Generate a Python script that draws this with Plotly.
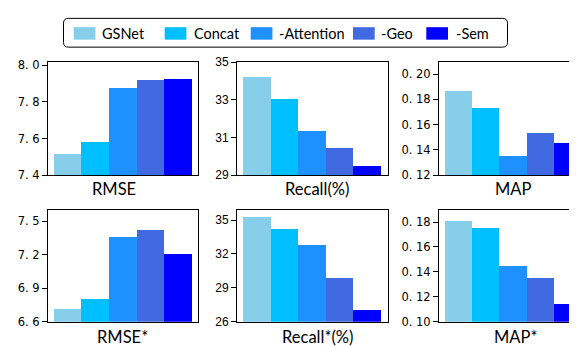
import plotly.graph_objects as go

W, H = 577, 347

methods = ["GSNet", "Concat", "-Attention", "-Geo", "-Sem"]
colors = ["#87CEEB", "#00BFFF", "#1E90FF", "#4169E1", "#0000FF"]

metrics = ["RMSE", "Recall(%)", "MAP", "RMSE*", "Recall*(%)", "MAP*"]
rmse = [7.517, 7.579, 7.874, 7.921, 7.926]
recall = [34.20, 33.06, 31.34, 30.42, 29.49]
map_ = [0.1863, 0.1731, 0.1350, 0.1537, 0.1459]
rmse_star = [6.717, 6.811, 7.360, 7.420, 7.206]
recall_star = [35.31, 34.21, 32.85, 29.96, 27.08]
map_star = [0.1808, 0.1753, 0.1448, 0.1354, 0.1143]
values = [rmse, recall, map_, rmse_star, recall_star, map_star]

tickvals = [
    [7.4, 7.6, 7.8, 8.0],
    [29, 31, 33, 35],
    [0.12, 0.14, 0.16, 0.18, 0.20],
    [6.6, 6.9, 7.2, 7.5],
    [26, 29, 32, 35],
    [0.10, 0.12, 0.14, 0.16, 0.18],
]
ticktexts = [
    ["7. 4", "7. 6", "7. 8", "8. 0"],
    ["29", "31", "33", "35"],
    ["0. 12", "0. 14", "0. 16", "0. 18", "0. 20"],
    ["6. 6", "6. 9", "7. 2", "7. 5"],
    ["26", "29", "32", "35"],
    ["0. 10", "0. 12", "0. 14", "0. 16", "0. 18"],
]
yranges = [
    [7.4, 8.017], [29, 35.0], [0.12, 0.2096],
    [6.6, 7.603], [26, 35.93], [0.10, 0.19],
]

# layout (pixels)
col_px = [(40, 190), (229, 380), (431, 577)]
row_px = [(49, 167), (202.7, 319.7)]
xranges = [[-0.706, 4.717], [-0.717, 4.754], [-0.733, 4.659]]
label_cx = [[106, 309, 505], [114.5, 309, 507]]
label_cy = [181, 335.5]


def px(x):
    return x / W


def py(y):
    return 1 - y / H


fig = go.Figure()
layout = dict(
    width=W, height=H,
    margin=dict(l=0, r=0, t=0, b=0),
    paper_bgcolor="white", plot_bgcolor="white",
    barmode="overlay", bargap=0,
    showlegend=False,
    font=dict(family="Lato", color="black"),
)
annotations = []
shapes = []

for k, metric in enumerate(metrics):
    r, c = divmod(k, 3)
    idx = "" if k == 0 else str(k + 1)
    xa, ya = "x" + idx, "y" + idx
    for j, m in enumerate(methods):
        fig.add_trace(go.Bar(
            x=[j], y=[values[k][j]], width=1, name=m,
            marker=dict(color=colors[j], line=dict(width=0)),
            xaxis=xa, yaxis=ya, showlegend=False,
        ))
    is_recall = "Recall" in metric
    layout["xaxis" + idx] = dict(
        domain=[px(col_px[c][0]), px(col_px[c][1])],
        range=xranges[c], anchor=ya,
        showticklabels=False, ticks="", showgrid=False, zeroline=False,
        showline=True, linecolor="black", linewidth=1, mirror=True,
    )
    layout["yaxis" + idx] = dict(
        domain=[py(row_px[r][1]), py(row_px[r][0])],
        range=yranges[k], anchor=xa,
        tickmode="array", tickvals=tickvals[k], ticktext=ticktexts[k],
        ticks="outside", ticklen=5, tickcolor="black", tickwidth=1,
        tickfont=dict(family="Liberation Sans" if is_recall else "DejaVu Sans",
                      size=12 if is_recall else 11.5, color="black"),
        showgrid=False, zeroline=False,
        showline=True, linecolor="black", linewidth=1,
        mirror=(c != 2),
    )
    annotations.append(dict(
        text=metric, xref="paper", yref="paper",
        x=px(label_cx[r][c]), y=py(label_cy[r]),
        xanchor="center", yanchor="middle", showarrow=False, borderpad=0,
        font=dict(family="Lato", size=16.5, color="black"),
    ))

# legend (drawn manually)
def rounded_rect(x0, y0, x1, y1, rad):
    def P(x, y):
        return f"{px(x):.5f},{py(y):.5f}"
    return (f"M {P(x0 + rad, y0)} L {P(x1 - rad, y0)} Q {P(x1, y0)} {P(x1, y0 + rad)} "
            f"L {P(x1, y1 - rad)} Q {P(x1, y1)} {P(x1 - rad, y1)} "
            f"L {P(x0 + rad, y1)} Q {P(x0, y1)} {P(x0, y1 - rad)} "
            f"L {P(x0, y0 + rad)} Q {P(x0, y0)} {P(x0 + rad, y0)} Z")

shapes.append(dict(type="path", xref="paper", yref="paper",
                   path=rounded_rect(55.5, 3.5, 499.5, 33.5, 5),
                   line=dict(color="black", width=1), fillcolor="white"))
sw_left = [65.7, 156.7, 242.7, 345, 418.3]
txt_left = [92.3, 184.3, 269, 371, 445.7]
for j, m in enumerate(methods):
    shapes.append(dict(type="rect", xref="paper", yref="paper",
                       x0=px(sw_left[j]), x1=px(sw_left[j] + 21.7),
                       y0=py(12.7), y1=py(25.7),
                       line=dict(width=0), fillcolor=colors[j]))
    annotations.append(dict(
        text=m, xref="paper", yref="paper",
        x=px(txt_left[j]), y=py(19.5), xanchor="left", yanchor="middle",
        showarrow=False, font=dict(family="Lato", size=14.5, color="black"),
    ))

layout["annotations"] = annotations
layout["shapes"] = shapes
fig.update_layout(**layout)
fig.write_html("out.html")
